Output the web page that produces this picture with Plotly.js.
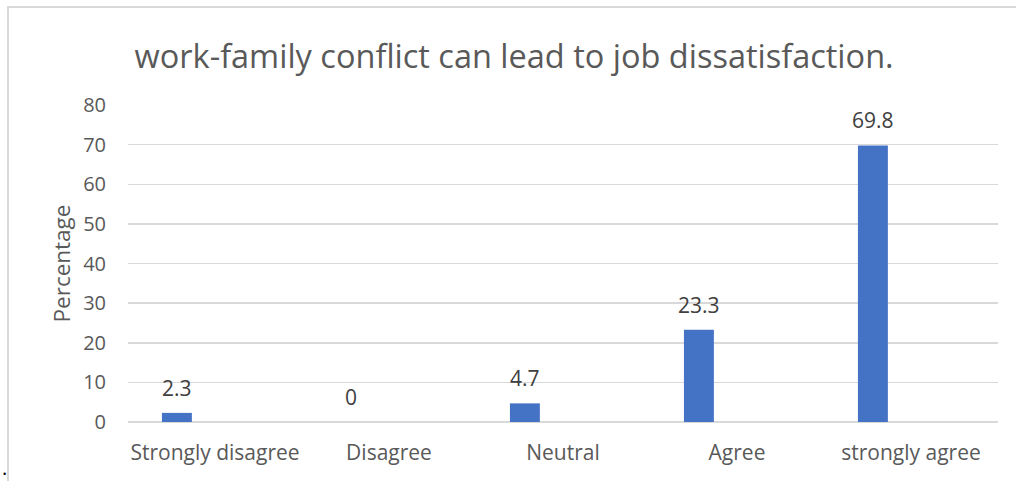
<!DOCTYPE html>
<html>
<head>
<meta charset="utf-8">
<script src="https://cdn.plot.ly/plotly-3.0.1.min.js"></script>
<style>
  html, body { margin: 0; padding: 0; background: #ffffff; }
  #wrap { position: relative; width: 1016px; height: 481px; overflow: hidden; }
  #chart { position: absolute; left: 0; top: 0; width: 1016px; height: 481px; }
  #frame { position: absolute; left: 7px; top: 6px; width: 1020px; height: 490px;
           border-left: 2px solid #d9d9d9; border-top: 2px solid #d9d9d9; pointer-events: none; }
  #dot { position: absolute; left: 2px; top: 456px; font: 20px "Open Sans", sans-serif; line-height: 24px; color: #000; }
</style>
</head>
<body>
<div id="wrap">
  <div id="chart"></div>
  <div id="frame"></div>
  <span id="dot">.</span>
</div>
<script>
// Survey responses, percentage per answer
const categories = ["Strongly disagree", "Disagree", "Neutral", "Agree", "strongly agree"];
const percentages = [2.3, 0, 4.7, 23.3, 69.8];
const yTicks = [0, 10, 20, 30, 40, 50, 60, 70, 80];

const FONT = '"Open Sans", "DejaVu Sans", sans-serif';
const BAR_W = 0.172;
const BAR_OFFSET = -0.305;
const LABEL_SHIFT = -38; // px, centre of the bar relative to the category centre

const trace = {
  type: 'bar',
  x: categories,
  y: percentages,
  width: BAR_W,
  offset: BAR_OFFSET,
  marker: { color: '#4472c4' },
  hoverinfo: 'x+y'
};

const annotations = categories.map((c, i) => ({
  x: c,
  y: percentages[i],
  xref: 'x',
  yref: 'y',
  text: String(percentages[i]),
  showarrow: false,
  xanchor: 'center',
  yanchor: 'middle',
  xshift: LABEL_SHIFT,
  yshift: 25,
  font: { family: FONT, size: 21, color: '#404040' }
}));

const layout = {
  width: 1016,
  height: 481,
  margin: { l: 128, r: 18, t: 105, b: 59 },
  paper_bgcolor: '#ffffff',
  plot_bgcolor: '#ffffff',
  showlegend: false,
  title: {
    text: 'work-family conflict can lead to job dissatisfaction.',
    font: { family: FONT, size: 32.5, color: '#595959' },
    xref: 'container', x: 0.506, xanchor: 'center',
    yref: 'container', y: 0.883, yanchor: 'middle'
  },
  xaxis: {
    type: 'category',
    showgrid: false,
    showline: false,
    zeroline: false,
    ticks: '',
    ticklabelstandoff: 16,
    tickfont: { family: FONT, size: 21, color: '#595959' }
  },
  yaxis: {
    range: [0, 80],
    tickvals: yTicks,
    ticktext: yTicks.map(String),
    showgrid: true,
    gridcolor: '#d9d9d9',
    gridwidth: 1.5,
    zeroline: true,
    zerolinecolor: '#d9d9d9',
    zerolinewidth: 1.5,
    showline: false,
    ticks: '',
    ticklabelstandoff: 21,
    tickfont: { family: FONT, size: 20, color: '#595959' },
    title: {
      text: 'Percentage',
      font: { family: FONT, size: 22.5, color: '#595959' },
      standoff: 6
    }
  },
  annotations: annotations
};

Plotly.newPlot('chart', [trace], layout, { displayModeBar: false, staticPlot: true });
</script>
</body>
</html>
